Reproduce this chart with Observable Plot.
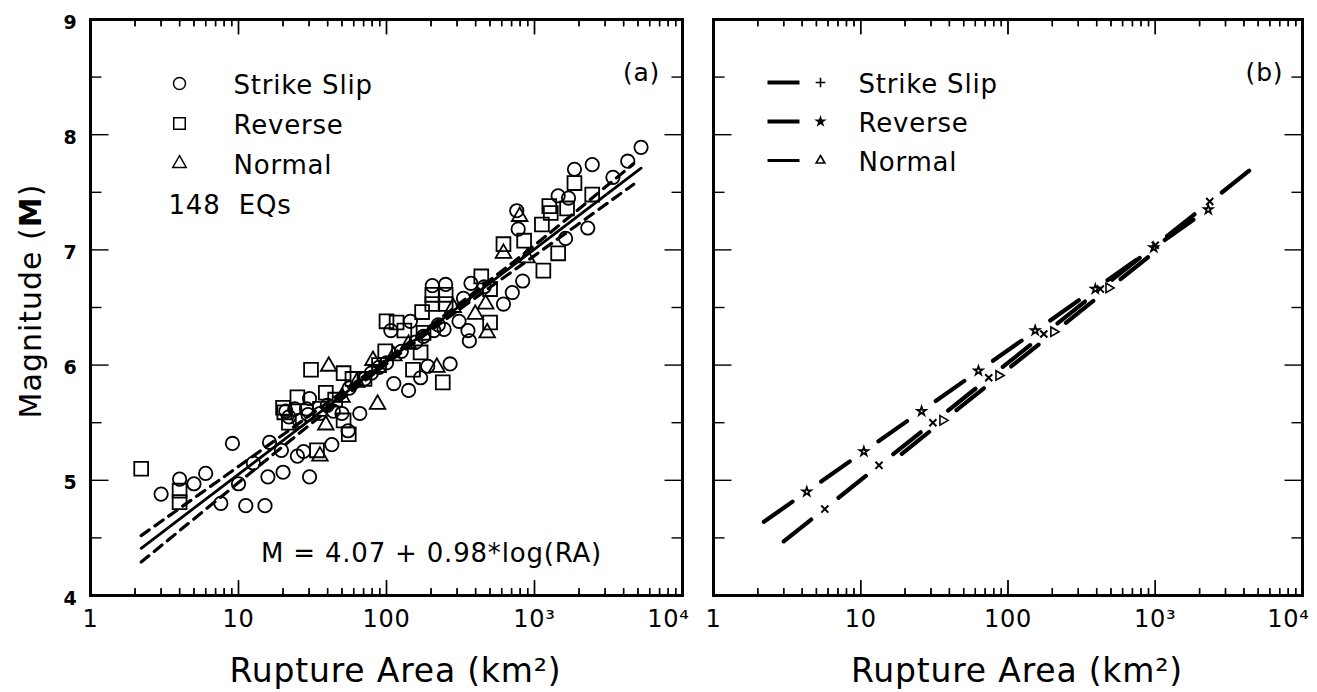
<!DOCTYPE html>
<html><head><meta charset="utf-8">
<script src="https://cdn.jsdelivr.net/npm/d3@7"></script>
<script src="https://cdn.jsdelivr.net/npm/@observablehq/plot@0.6"></script>
<style>
html,body{margin:0;padding:0;background:#fff;}
#wrap{position:relative;width:1317px;height:692px;display:flex;}
#wrap svg text{letter-spacing:0.8px;}
#ylab{position:absolute;left:30px;top:301px;transform:translate(-50%,-50%) rotate(-90deg);font:30px "DejaVu Sans";white-space:nowrap;letter-spacing:1px;}
</style></head>
<body><div id="wrap"><div id="ylab">Magnitude (<b>M</b>)</div></div>
<script>
// ---- Panel (a): observations ----
const ssArea = [3.0,4.0,5.0,6.0,7.6,9.1,10,11.2,15.1,16.2,15.8,20,19.5,25,27.5,30.2,42.7,30.2,24,28.8,20.9,21.9,29.5,25.7,50,55,66,43.7,112,141,170,190,269,363,107,145,209,245,355,204,251,372,331,309,708,617,832,759,776,1622,2291,1445,1698,1862,2455,3388,4266,5248,12.6,35.5,39.8,56,79,100,126,158,178,224,71,89,457];
const ssMag  = [4.88,5.01,4.97,5.06,4.80,5.32,4.97,4.78,4.78,5.33,5.03,5.07,5.26,5.21,5.25,5.03,5.31,5.71,5.62,5.62,5.60,5.55,5.57,5.52,5.58,5.43,5.58,5.60,5.84,5.78,5.89,5.99,6.01,6.21,6.30,6.38,6.30,6.31,6.30,6.69,6.70,6.71,6.58,6.38,6.63,6.53,6.73,7.34,7.18,7.10,7.19,7.47,7.45,7.70,7.74,7.63,7.77,7.89,5.15,5.58,5.65,5.80,5.93,6.02,6.12,6.20,6.25,6.35,5.88,5.98,6.68];
const rvArea = [2.2,4.0,4.0,20,25,20.4,21.9,38.9,30.9,51.3,58.9,51.3,55.6,33.9,151,240,170,100,117,132,174,204,251,204,251,437,501,501,617,851,1122,1259,1288,1660,1862,2455,1445,1148,98,35.5,71,178,45,89];
const rvMag  = [5.10,4.91,4.81,5.63,5.72,5.59,5.50,5.76,5.96,5.93,5.88,5.52,5.40,5.26,5.96,5.85,6.11,6.38,6.37,6.30,6.46,6.61,6.61,6.53,6.53,6.77,6.66,6.37,7.05,7.08,7.22,7.38,7.32,7.36,7.58,7.48,6.97,6.82,6.12,5.62,5.88,6.28,5.70,6.00];
const nmArea = [40.7,38.9,35.5,87,219,398,468,479,794,617,891,81,50,141,282,63,112];
const nmMag  = [5.99,5.48,5.21,5.66,5.98,6.44,6.53,6.28,7.29,6.97,6.93,6.04,5.72,6.18,6.50,5.85,6.08];

// regression (solid) and confidence bands (dashed)
const fitArea   = [2.2, 5250];
const fitMag    = [4.41, 7.71];
const bandArea  = [2.2, 10, 31.6, 100, 316, 1000, 4680];
const bandUpper = [4.52, 5.12, 5.58, 6.05, 6.54, 7.04, 7.75];
const bandLower = [4.29, 4.98, 5.50, 6.01, 6.49, 6.95, 7.57];

// ---- Panel (b): regressions by fault type ----
const ssLineArea = [3.0, 4470];   const ssLineMag = [4.47, 7.70];
const rvLineArea = [2.2, 2400];   const rvLineMag = [4.64, 7.37];
const nmLineArea = [19, 900];     const nmLineMag = [5.23, 6.94];
const ssMarkArea = [5.7, 13.3, 30.9, 74, 175, 424, 1000, 2344];
const ssMarkMag  = [4.75, 5.13, 5.50, 5.89, 6.27, 6.66, 7.04, 7.42];
const rvMarkArea = [4.3, 10.5, 25.9, 63, 153, 392, 977, 2291];
const rvMarkMag  = [4.90, 5.25, 5.60, 5.95, 6.30, 6.66, 7.02, 7.35];
const nmMarkArea = [36, 86.5, 204, 483];
const nmMarkMag  = [5.52, 5.91, 6.29, 6.67];

// ---- axes ----
const xDomain = [1, 10000];
const yDomain = [4, 9];
const xMajor = [1, 10, 100, 1000, 10000];
const xMajorLabels = ["1", "10", "100", "10³", "10⁴"];
const xMinor = [1, 10, 100, 1000].flatMap(d => [2,3,4,5,6,7,8,9].map(k => d * k));
const yMajor = [4, 5, 6, 7, 8, 9];
const yMajorLabels = ["4", "5", "6", "7", "8", "9"];
const yMinor = [4.5, 5.5, 6.5, 7.5, 8.5];

const rows = (a, m) => a.map((v, i) => ({ra: v, m: m[i]}));
const xLab = new Map(xMajor.map((v, i) => [v, xMajorLabels[i]]));
const yLab = new Map(yMajor.map((v, i) => [v, yMajorLabels[i]]));
const FONT = "DejaVu Sans";
const T = {lineAnchor: "middle", textAnchor: "start", text: d => d};
const FH = 692 - 19 - 97;

// segment symbols: legend line and inward tick marks
const seg = (x0, y0, x1, y1) => ({draw(ctx) { ctx.moveTo(x0, y0); ctx.lineTo(x1, y1); }});
const dashSym = seg(-16, 0, 16, 0);

function xTicks(vals, len) {
  const lo = vals.map(v => ({v, m: yDomain[0]}));
  const hi = vals.map(v => ({v, m: yDomain[1]}));
  const s = {stroke: "black", strokeWidth: 1.4};
  return [
    Plot.dot(lo, {...s, x: "v", y: "m", symbol: seg(0, 0, 0, -len)}),
    Plot.dot(hi, {...s, x: "v", y: "m", symbol: seg(0, 0, 0, len)}),
    Plot.ruleX(lo, {...s, x: "v", insetTop: FH - len}),
    Plot.ruleX(hi, {...s, x: "v", insetBottom: FH - len})
  ];
}

function frameAxes(withYLabels) {
  const s = {stroke: "black", strokeWidth: 1.4};
  const m = [
    ...xTicks(xMajor, 15),
    ...xTicks(xMinor, 7),
    Plot.dot(yMajor, {...s, y: d => d, frameAnchor: "left", symbol: seg(0, 0, 18, 0)}),
    Plot.dot(yMinor, {...s, y: d => d, frameAnchor: "left", symbol: seg(0, 0, 11, 0)}),
    Plot.dot(yMajor, {...s, y: d => d, frameAnchor: "right", symbol: seg(0, 0, -18, 0)}),
    Plot.dot(yMinor, {...s, y: d => d, frameAnchor: "right", symbol: seg(0, 0, -11, 0)}),
    Plot.frame({strokeWidth: 3}),
    Plot.axisX({anchor: "bottom", ticks: xMajor.slice(0, 4), tickSize: 0, tickPadding: 14, tickFormat: d => xLab.get(d), fontSize: 24, label: null}),
    Plot.axisX({anchor: "bottom", ticks: xMajor.slice(4), tickSize: 0, tickPadding: 14, tickFormat: d => xLab.get(d), fontSize: 24, dx: -14, label: null}),
    Plot.text(["Rupture Area (km²)"], {text: d => d, frameAnchor: "bottom", lineAnchor: "middle", dy: 76, dx: 9, fontSize: 33})
  ];
  if (withYLabels) m.push(Plot.axisY({anchor: "left", ticks: yMajor, tickSize: 0, tickPadding: 13, tickFormat: d => yLab.get(d), fontSize: 19, fontWeight: "bold", dy: 3, label: null}));
  else m.push(Plot.axisY({anchor: "left", ticks: [], tickSize: 0, label: null}));
  return m;
}

const common = {
  height: 692, marginTop: 19, marginBottom: 97,
  x: {type: "log", domain: xDomain},
  y: {domain: yDomain},
  style: {fontFamily: FONT, color: "black", background: "white", overflow: "visible"}
};

const legA = [
  {sym: "circle", r: 6, label: "Strike Slip"},
  {sym: "square", r: 6.5, label: "Reverse"},
  {sym: "triangle", r: 5, label: "Normal"}
];

const plotA = Plot.plot({
  ...common, width: 700, marginLeft: 90, marginRight: 18,
  marks: [
    ...frameAxes(true),
    Plot.line(rows(bandArea, bandUpper), {x: "ra", y: "m", curve: "catmull-rom", strokeWidth: 3.2, strokeDasharray: "10,7"}),
    Plot.line(rows(bandArea, bandLower), {x: "ra", y: "m", curve: "catmull-rom", strokeWidth: 3.2, strokeDasharray: "10,7"}),
    Plot.line(rows(fitArea, fitMag), {x: "ra", y: "m", strokeWidth: 2.8}),
    Plot.dot(rows(ssArea, ssMag), {x: "ra", y: "m", symbol: "circle", r: 6.7, stroke: "black", fill: "none", strokeWidth: 1.8}),
    Plot.dot(rows(rvArea, rvMag), {x: "ra", y: "m", symbol: "square", r: 7.8, stroke: "black", fill: "none", strokeWidth: 1.8}),
    Plot.dot(rows(nmArea, nmMag), {x: "ra", y: "m", symbol: "triangle", r: 5.8, stroke: "black", fill: "none", strokeWidth: 1.8}),
    ...legA.map((d, i) => Plot.dot([d], {symbol: d.sym, r: d.r, frameAnchor: "top-left", dx: 89, dy: 64 + 40 * i, stroke: "black", fill: "none", strokeWidth: 1.5})),
    ...legA.map((d, i) => Plot.text([d.label], {...T, frameAnchor: "top-left", dx: 143, dy: 66 + 40 * i, fontSize: 26})),
    Plot.text(["148\u00a0\u00a0EQs"], {...T, frameAnchor: "top-left", dx: 78, dy: 186, fontSize: 26}),
    Plot.text(["(a)"], {...T, textAnchor: "middle", frameAnchor: "top-right", dx: -41, dy: 53, fontSize: 25}),
    Plot.text(["M = 4.07 + 0.98*log(RA)"], {...T, textAnchor: "middle", frameAnchor: "top-left", dx: 341, dy: 534, fontSize: 26})
  ]
});

const legB = [
  {sym: "plus", r: 3.2, label: "Strike Slip"},
  {sym: "star", r: 2.4, label: "Reverse"},
  {sym: "triangle", r: 3.2, label: "Normal"}
];
const lineStyle = {x: "ra", y: "m", strokeWidth: 4.2, strokeDasharray: "35,35"};

const plotB = Plot.plot({
  ...common, width: 617, marginLeft: 13, marginRight: 15,
  marks: [
    ...frameAxes(false),
    Plot.line(rows(rvLineArea, rvLineMag), lineStyle),
    Plot.line(rows(ssLineArea, ssLineMag), lineStyle),
    Plot.line(rows(nmLineArea, nmLineMag), lineStyle),
    Plot.dot(rows(ssMarkArea, ssMarkMag), {x: "ra", y: "m", symbol: "times", r: 3.3, stroke: "black", strokeWidth: 2}),
    Plot.dot(rows(rvMarkArea, rvMarkMag), {x: "ra", y: "m", symbol: "star", r: 2.7, stroke: "black", fill: "none", strokeWidth: 1.8}),
    Plot.dot(rows(nmMarkArea, nmMarkMag), {x: "ra", y: "m", symbol: "triangle", r: 3.5, rotate: 90, stroke: "black", fill: "none", strokeWidth: 1.6}),
    ...legB.map((d, i) => Plot.dot([d], {symbol: dashSym, frameAnchor: "top-left", dx: 70, dy: 63 + 39 * i, stroke: "black", strokeWidth: i === 2 ? 3 : 4})),
    ...legB.map((d, i) => Plot.dot([d], {symbol: d.sym, r: d.r, frameAnchor: "top-left", dx: 107, dy: 63 + 39 * i, stroke: "black", fill: i === 1 ? "black" : "none", strokeWidth: 1.6})),
    ...legB.map((d, i) => Plot.text([d.label], {...T, frameAnchor: "top-left", dx: 145, dy: 65 + 39 * i, fontSize: 26})),
    Plot.text(["(b)"], {...T, textAnchor: "middle", frameAnchor: "top-right", dx: -38, dy: 53, fontSize: 25})
  ]
});

const wrap = document.getElementById("wrap");
wrap.appendChild(plotA);
wrap.appendChild(plotB);
</script>
</body></html>
